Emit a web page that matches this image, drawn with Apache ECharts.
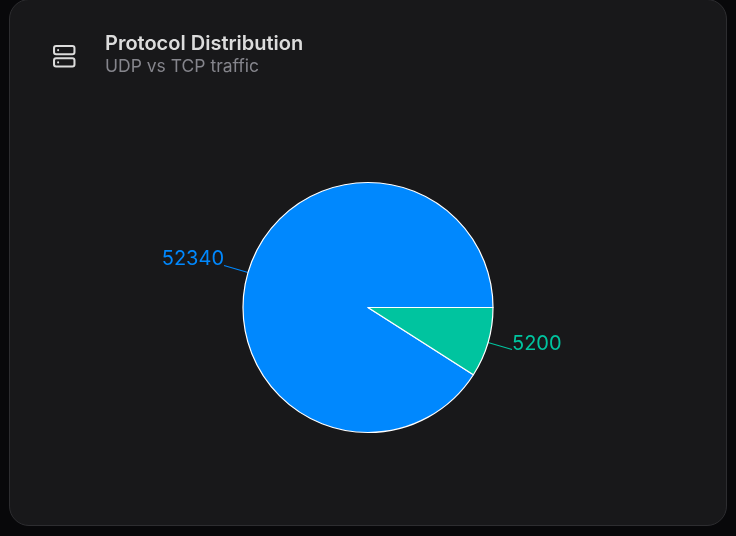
<!DOCTYPE html>
<html>
<head>
<meta charset="utf-8">
<title>Protocol Distribution</title>
<script src="https://cdn.jsdelivr.net/npm/echarts@6/dist/echarts.min.js"></script>
<style>
    html, body { margin: 0; padding: 0; width: 736px; height: 536px; background: #08080a; overflow: hidden; }
    #card { position: absolute; left: 9px; top: -1px; width: 716px; height: 525px; background: #18181a; border: 1px solid #2d2d30; border-radius: 20px; }
    #chart { position: absolute; left: 0; top: 0; width: 736px; height: 536px; }
    #icon { position: absolute; left: 52px; top: 44px; }
</style>
</head>
<body>
<div id="card"></div>
<svg id="icon" width="24.5" height="24.5" viewBox="0 0 24 24" fill="none" stroke="#dcdcdc" stroke-width="2" stroke-linecap="round" stroke-linejoin="round">
    <rect x="2" y="2" width="20" height="8" rx="2"></rect>
    <rect x="2" y="14" width="20" height="8" rx="2"></rect>
    <line x1="6" y1="6" x2="6.01" y2="6"></line>
    <line x1="6" y1="18" x2="6.01" y2="18"></line>
</svg>
<div id="chart"></div>
<script>
var protocols = ['UDP', 'TCP'];
var packets = [52340, 5200];
var colors = ['#0088FE', '#00C49F'];

var pieData = [];
for (var i = 0; i < protocols.length; i++) {
    pieData.push({
        name: protocols[i],
        value: packets[i],
        itemStyle: { color: colors[i] },
        label: { color: colors[i] },
        labelLine: { lineStyle: { color: colors[i], width: 1.1 } }
    });
}

var myChart = echarts.init(document.getElementById('chart'));
myChart.setOption({
    animation: false,
    textStyle: { fontFamily: 'Inter' },
    title: {
        left: 105,
        top: 33,
        padding: 0,
        itemGap: 3,
        text: 'Protocol Distribution',
        subtext: 'UDP vs TCP traffic',
        textStyle: { color: '#dcdcdc', fontFamily: 'Inter', fontSize: 20, fontWeight: 600, lineHeight: 21 },
        subtextStyle: { color: '#85858c', fontFamily: 'Inter', fontSize: 17.5, fontWeight: 400, lineHeight: 20 }
    },
    series: [{
        type: 'pie',
        center: [368, 307.5],
        radius: [0, 125],
        startAngle: 0,
        clockwise: false,
        minShowLabelAngle: 0,
        avoidLabelOverlap: false,
        itemStyle: { borderColor: '#ffffff', borderWidth: 1.2 },
        emphasis: { disabled: true },
        label: {
            show: true,
            position: 'outer',
            formatter: '{c}',
            fontFamily: 'Inter',
            fontSize: 20,
            distanceToLabelLine: 0
        },
        labelLine: { show: true, length: 25, length2: 0, smooth: false },
        labelLayout: { dy: -6 },
        data: pieData
    }]
});
</script>
</body>
</html>
